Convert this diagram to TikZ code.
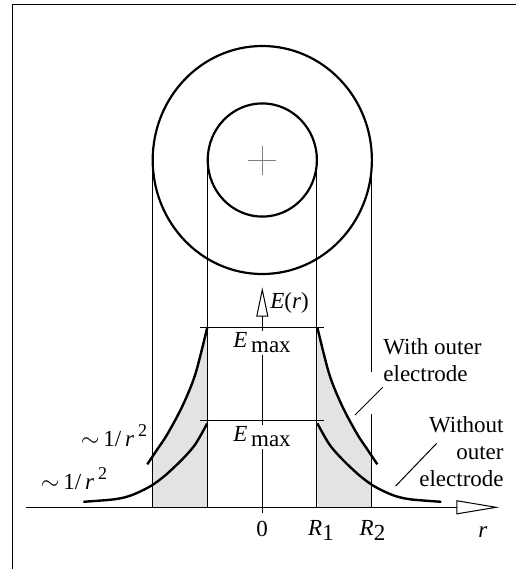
\documentclass[tikz,border=0pt]{standalone}
\usepackage{fontspec}
\setmainfont{Liberation Serif}
\usetikzlibrary{arrows.meta}
\definecolor{areagray}{gray}{0.89}

\begin{document}
\begin{tikzpicture}[x=0.5pt,y=-0.5pt,
  every node/.style={font=\fontsize{11.5}{13.5}\selectfont,inner sep=1pt},
  thinline/.style={line width=0.5pt},
  electrode/.style={line width=1.1pt},
  curve/.style={line width=1.2pt},
  leader/.style={line width=0.5pt},
  raxis/.style={line width=0.5pt,-{Triangle[open,length=21.5pt,width=7pt]}},
  eaxis/.style={line width=0.5pt,-{Triangle[open,length=14.7pt,width=6pt]}}]
  \useasboundingbox (0,0) rectangle (516,569);
  \draw[thinline] (12,569) -- (12,4) -- (516,4);

  % cross section of the two electrodes
  \coordinate (c) at (262.3,160);
  \draw[electrode] (c) ellipse [x radius=54.8pt,y radius=57pt];
  \draw[electrode] (c) ellipse [x radius=27.3pt,y radius=28.3pt];
  \draw[thinline,gray] (248,160) -- (276,160) (262.3,145.5) -- (262.3,174.5);

  % field curves, both sides
  \foreach \s in {1,-1} {
    \begin{scope}[shift={(262.3,507.3)},xscale=\s]
      \begin{scope}
        \clip (55,0) rectangle (109.5,-200);
        \fill[areagray] plot[smooth] coordinates
          {(55,-180) (67,-133) (80,-101) (95,-73) (105,-58) (115,-43)} |- (55,0) -- cycle;
      \end{scope}
      \draw[curve] plot[smooth] coordinates
        {(55,-180) (67,-133) (80,-101) (95,-73) (105,-58) (115,-43)};
      \draw[curve] plot[smooth] coordinates
        {(55,-84) (67,-63) (80,-48) (97,-32) (112,-21) (131,-12) (148,-8) (179,-5.5)};
    \end{scope}
  }

  % projection lines
  \draw[thinline] (152.7,160) -- (152.7,507.3);
  \draw[thinline] (207.7,160) -- (207.7,507.3);
  \draw[thinline] (316.9,160) -- (316.9,507.3);
  \draw[thinline] (371.7,160) -- (371.7,372) (371.7,414) -- (371.7,507.3);

  \draw[thinline] (200,327.3) -- (324,327.3);
  \draw[thinline] (200,420.7) -- (324,420.7);

  % axes
  \draw[eaxis] (262.3,513) -- (262.3,287.3);
  \draw[raxis] (26,507.3) -- (499.3,507.3);

  \node[anchor=west] (elbl) at (268,303) {\textit{E}(\textit{r})};
  \node[fill=white] (emaxhi) at (262,343) {\textit{E}\,\raisebox{-2.5pt}{max}};
  \node[fill=white] (emaxlo) at (262,436.7) {\textit{E}\,\raisebox{-2.5pt}{max}};

  \node (zero) at (262,529) {0};
  \node (rone) at (321,530) {\textit{R}\raisebox{-2.5pt}{1}};
  \node (rtwo) at (372.5,530) {\textit{R}\raisebox{-2.5pt}{2}};
  \node (rlbl) at (483,532) {\textit{r}};

  \node (invhi) at (114,436) {$\sim$\,1/\,\textit{r}\,\raisebox{5pt}{\fontsize{9}{9}\selectfont 2}};
  \node (invlo) at (74,479) {$\sim$\,1/\,\textit{r}\,\raisebox{5pt}{\fontsize{9}{9}\selectfont 2}};

  % curve labels
  \node[anchor=west,align=left] (withlbl) at (381,360) {With outer\\electrode};
  \node[anchor=east,align=right] (withoutlbl) at (506,452) {Without\\outer\\electrode};
  \coordinate (withfoot) at (382.7,387.3);
  \coordinate (withtip) at (355,415);
  \coordinate (withoutfoot) at (436.7,443.3);
  \coordinate (withouttip) at (395.7,486);
  \draw[leader] (withfoot) -- (withtip);
  \draw[leader] (withoutfoot) -- (withouttip);
\end{tikzpicture}
\end{document}
